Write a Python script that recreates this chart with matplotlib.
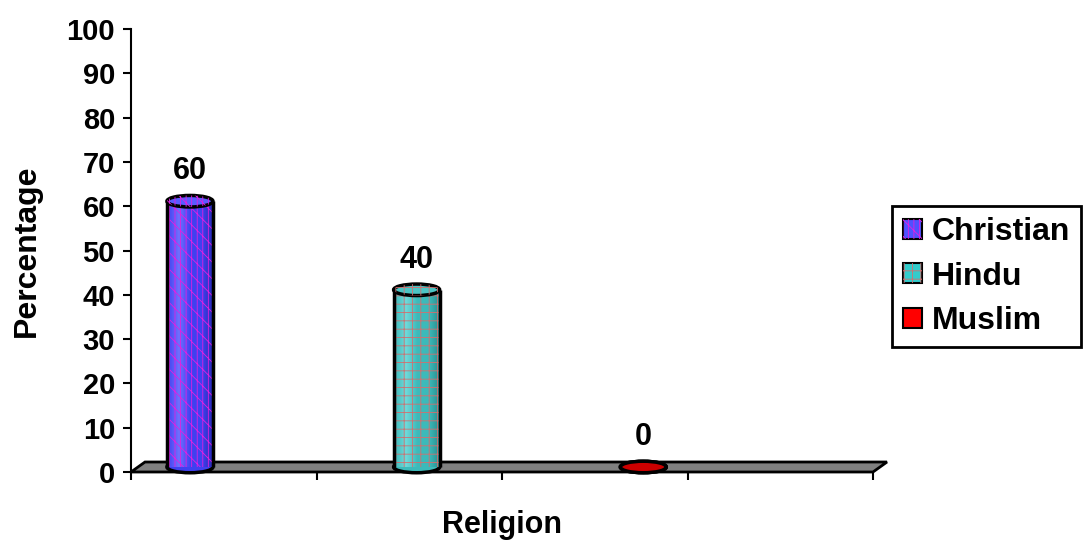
import numpy as np
import matplotlib
matplotlib.use('Agg')
import matplotlib.pyplot as plt
import matplotlib.transforms as mtransforms
from matplotlib.patches import Rectangle, Ellipse, Polygon, Patch
from matplotlib.colors import LinearSegmentedColormap
from matplotlib.legend_handler import HandlerTuple

religions = ['Christian', 'Hindu', 'Muslim']
percentages = [60, 40, 0]

# body colours (light edge, base, dark edge), top colour, hatch, hatch colour
body_colors = [('#7070ff', '#4040f0', '#2626b0'),
               ('#70dada', '#3cbaba', '#268a8a'),
               ('#ff5050', '#dd0000', '#990000')]
top_colors = ['#5a5aff', '#4cc4c4', '#cc0000']
legend_colors = ['#5050ff', '#33cccc', '#ff0000']
hatches = ['\\\\|||', '++', None]
hatch_colors = ['#e020e0', '#d07070', None]

plt.rcParams['font.family'] = ['Liberation Sans', 'DejaVu Sans']
plt.rcParams['font.weight'] = 'bold'
plt.rcParams['hatch.linewidth'] = 0.6

W, H = 1086, 550
fig = plt.figure(figsize=(W / 100, H / 100), dpi=100)
ax = fig.add_axes([131 / W, (H - 472) / H, (873 - 131) / W, (472 - 29) / H])
ax.set_xlim(0, 4)
ax.set_ylim(0, 100)

# 3D depth of the floor, in pixels
depth_x, depth_y = 14, 10
full = ax.transData + mtransforms.ScaledTranslation(depth_x / 100, depth_y / 100, fig.dpi_scale_trans)
half = ax.transData + mtransforms.ScaledTranslation(depth_x / 200, depth_y / 200, fig.dpi_scale_trans)

# grey floor
floor_pts = np.array([[0, 0], [4, 0]])
back = full.transform(floor_pts)
front = ax.transData.transform(floor_pts)
inv = ax.transData.inverted()
poly = np.vstack([front[0], front[1], back[1], back[0]])
ax.add_patch(Polygon(inv.transform(poly), closed=True, facecolor='#808080',
                     edgecolor='black', lw=2, zorder=1, clip_on=False))

bar_w = 0.248
ell_h = 2.6
xs = 0.28 + 1.222 * np.arange(len(religions))

for i, (x, v) in enumerate(zip(xs, percentages)):
    light, base, dark = body_colors[i]
    # bottom cap
    ax.add_patch(Ellipse((x, 0), bar_w, ell_h, facecolor=base, edgecolor='black',
                         lw=2.5, transform=half, zorder=3, clip_on=False))
    if v > 0:
        body = Rectangle((x - bar_w / 2, 0), bar_w, v, facecolor=base, lw=0,
                         transform=half, zorder=3)
        ax.add_patch(body)
        cmap = LinearSegmentedColormap.from_list('cyl', [base, light, base, base, dark])
        grad = np.linspace(0, 1, 64).reshape(1, -1)
        im = ax.imshow(grad, cmap=cmap, aspect='auto', transform=half, zorder=3.1,
                       extent=(x - bar_w / 2, x + bar_w / 2, 0, v))
        im.set_clip_path(body)
        if hatches[i]:
            ax.add_patch(Rectangle((x - bar_w / 2, 0), bar_w, v, facecolor='none',
                                   edgecolor=hatch_colors[i], hatch=hatches[i], lw=0,
                                   transform=half, zorder=3.2))
        for side in (-1, 1):
            ax.plot([x + side * bar_w / 2] * 2, [0, v], color='black', lw=2.5,
                    transform=half, zorder=3.3, solid_capstyle='butt')
    # top cap
    ax.add_patch(Ellipse((x, v), bar_w, ell_h, facecolor=top_colors[i], edgecolor='black',
                         lw=2.5, transform=half, zorder=3.4, clip_on=False))
    if hatches[i]:
        ax.add_patch(Ellipse((x, v), bar_w, ell_h, facecolor='none', edgecolor=hatch_colors[i],
                             hatch=hatches[i], lw=0, transform=half, zorder=3.45))
    ax.annotate(str(v), (x, v), xytext=(depth_x / 2, depth_y / 2 + 30),
                textcoords='offset pixels', ha='center', va='center',
                fontsize=22, fontweight='bold', zorder=5)

ax.set_yticks(np.arange(0, 101, 10))
ax.set_xticks(np.arange(0, 5, 1))
ax.set_xticklabels([])
ax.tick_params(axis='y', length=5.5, width=1.5, pad=6, labelsize=21)
ax.tick_params(axis='x', length=6, width=1.5)
for s in ('top', 'right', 'bottom'):
    ax.spines[s].set_visible(False)
ax.spines['left'].set_linewidth(1.5)
ax.set_ylabel('Percentage', fontsize=23, fontweight='bold', labelpad=18)
ax.set_xlabel('Religion', fontsize=22, fontweight='bold', labelpad=18)

handles = []
for i in range(len(religions)):
    base = Patch(facecolor=legend_colors[i], edgecolor='black', lw=1.5)
    if hatches[i]:
        handles.append((base, Patch(facecolor='none', edgecolor=hatch_colors[i],
                                    hatch=hatches[i], lw=0)))
    else:
        handles.append((base,))
leg = fig.legend(handles, religions, handler_map={tuple: HandlerTuple(ndivide=1)},
                 loc='upper left', bbox_to_anchor=(892 / W, 1 - 206 / H),
                 prop={'weight': 'bold', 'size': 23},
                 handlelength=0.6, handleheight=0.6, handletextpad=0.3,
                 labelspacing=0.45, borderpad=0.35, borderaxespad=0,
                 fancybox=False, framealpha=1)
leg.get_frame().set_edgecolor('black')
leg.get_frame().set_linewidth(2)

fig.savefig('out.png', dpi=100)
